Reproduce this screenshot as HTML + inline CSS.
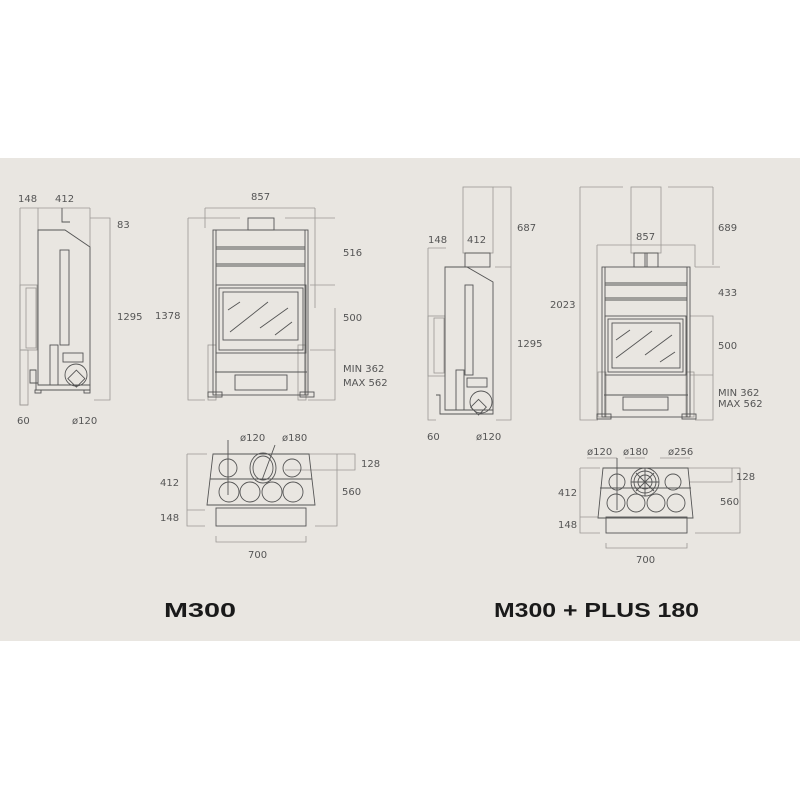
<!DOCTYPE html>
<html><head><meta charset="utf-8"><style>
html,body{margin:0;padding:0;background:#fff}
svg{display:block}
text{font-family:"DejaVu Sans","Liberation Sans",sans-serif;font-size:10px;fill:#555}
.t{font-family:"Liberation Sans",sans-serif;font-weight:bold;font-size:20px;fill:#1a1a1a}
</style></head><body>
<svg width="800" height="800" viewBox="0 0 800 800" xmlns="http://www.w3.org/2000/svg">
<rect x="0" y="0" width="800" height="800" fill="#fff"/>
<rect x="0" y="158" width="800" height="483" fill="#e9e6e1"/>
<g fill="none" stroke="#9a9894" stroke-width="0.8">
<!-- LEFT SIDE VIEW -->
<path d="M20 208H90M20 208V405H28M38 208V230M90 208V250M90 218H110V400H94"/>
<rect x="20" y="285" width="17" height="65"/>
<rect x="26" y="288" width="10" height="60"/>
<rect x="20" y="350" width="8" height="55"/>
</g>
<g fill="none" stroke="#555" stroke-width="0.9">
<path d="M38 230H65L90 247V385H38Z"/>
<rect x="60" y="250" width="9" height="95"/>
<rect x="63" y="353" width="20" height="9"/>
<rect x="50" y="345" width="8" height="40"/>
<circle cx="76" cy="375" r="11"/>
<path d="M50 385H90V390H36V370H30V383H38"/>
<rect x="64" y="370" width="12" height="12" transform="rotate(45 70 385)"/>
<path d="M62 208V222H70"/>
<rect x="35" y="390" width="6" height="3"/><rect x="84" y="390" width="6" height="3"/>
</g>
<!-- LEFT FRONT VIEW -->
<g fill="none" stroke="#9a9894" stroke-width="0.8">
<path d="M205 208H315M205 208V228M315 208V308M188 218H240M285 218H335M188 218V400H205M308 400H335V308M310 285H335M310 350H335"/>
<rect x="208" y="345" width="8" height="55"/><rect x="298" y="345" width="8" height="55"/>
</g>
<g fill="none" stroke="#555" stroke-width="0.9">
<rect x="248" y="218" width="26" height="12"/>
<rect x="213" y="230" width="95" height="165"/>
<path d="M216 230V395M305 230V395M216 247H305M216 249H305M216 264H305M216 266H305"/>
<rect x="216" y="285" width="90" height="68"/>
<rect x="219" y="288" width="84" height="62"/>
<rect x="223" y="292" width="75" height="48"/>
<path d="M228 310L240 302M230 332L268 302M260 328L288 308M275 335L292 322"/>
<path d="M215 372H307"/>
<rect x="235" y="375" width="52" height="15"/>
<rect x="208" y="392" width="14" height="5"/><rect x="300" y="392" width="14" height="5"/>
</g>
<!-- LEFT TOP VIEW -->
<g fill="none" stroke="#9a9894" stroke-width="0.8">
<path d="M187 454H207M187 454V526H205M310 454H337V526H315M280 454H355V470H285M216 536V542H306V536M187 510H205"/>
</g>
<g fill="none" stroke="#555" stroke-width="0.9">
<path d="M213 454H309L315 505H207Z"/>
<path d="M210 479H312"/>
<rect x="216" y="508" width="90" height="18"/>
<ellipse cx="228" cy="468" rx="9" ry="9"/>
<ellipse cx="263" cy="468" rx="13" ry="15"/>
<ellipse cx="263" cy="468" rx="10" ry="12"/>
<ellipse cx="292" cy="468" rx="9" ry="9"/>
<circle cx="229" cy="492" r="10"/><circle cx="250" cy="492" r="10"/>
<circle cx="272" cy="492" r="10"/><circle cx="293" cy="492" r="10"/>
<path d="M228 440V495M262 480L275 445"/>
</g>
<!-- RIGHT SIDE VIEW -->
<g fill="none" stroke="#9a9894" stroke-width="0.8">
<rect x="463" y="187" width="30" height="66"/>
<path d="M493 187H511V420H496M428 248H446M428 248V420H436M511 267H495"/>
<rect x="428" y="316" width="17" height="60"/>
<rect x="434" y="318" width="10" height="55"/>
</g>
<g fill="none" stroke="#555" stroke-width="0.9">
<path d="M445 267H467L493 282V410H445Z"/>
<rect x="465" y="285" width="8" height="90"/>
<rect x="467" y="378" width="20" height="9"/>
<rect x="456" y="370" width="8" height="40"/>
<circle cx="481" cy="402" r="11"/>
<path d="M445 410H493V414H440V395H436"/>
<rect x="470" y="400" width="11" height="11" transform="rotate(45 475 410)"/>
<rect x="465" y="253" width="25" height="14"/>
</g>
<!-- RIGHT FRONT VIEW -->
<g fill="none" stroke="#9a9894" stroke-width="0.8">
<path d="M580 187H623M668 187H713M580 187V420H598M713 187V265M597 245H695V267M597 245V420M695 267H720M690 316H713V420H695M690 375H713"/>
<rect x="631" y="187" width="30" height="66"/>
<rect x="598" y="372" width="8" height="45"/><rect x="686" y="372" width="8" height="45"/>
</g>
<g fill="none" stroke="#555" stroke-width="0.9">
<rect x="634" y="253" width="24" height="14"/>
<path d="M645 253V267M647 253V267"/>
<rect x="602" y="267" width="88" height="150"/>
<path d="M605 267V417M687 267V417M605 283H687M605 285H687M605 298H687M605 300H687"/>
<rect x="605" y="316" width="81" height="59"/>
<rect x="608" y="319" width="75" height="53"/>
<rect x="612" y="323" width="68" height="45"/>
<path d="M616 340L630 330M616 358L652 331M645 355L672 335M660 362L675 352"/>
<path d="M604 395H688"/>
<rect x="623" y="397" width="45" height="13"/>
<rect x="597" y="414" width="14" height="5"/><rect x="682" y="414" width="14" height="5"/>
</g>
<!-- RIGHT TOP VIEW -->
<g fill="none" stroke="#9a9894" stroke-width="0.8">
<path d="M580 468H600M580 468V533H600M692 468H740V533H695M680 468H732V482H690M606 543V548H687V543M580 517H598M587 458H617M625 458H645M660 458H690"/>
</g>
<g fill="none" stroke="#555" stroke-width="0.9">
<path d="M603 468H688L693 518H598Z"/>
<path d="M600 488H691"/>
<rect x="606" y="517" width="81" height="16"/>
<circle cx="617" cy="482" r="8"/><circle cx="673" cy="482" r="8"/>
<circle cx="645" cy="482" r="14"/><circle cx="645" cy="482" r="11"/><circle cx="645" cy="482" r="7"/>
<path d="M645 468V496M631 482H659M636 473L654 491M654 473L636 491"/>
<circle cx="616" cy="503" r="9"/><circle cx="636" cy="503" r="9"/>
<circle cx="656" cy="503" r="9"/><circle cx="676" cy="503" r="9"/>
<path d="M617 458V510"/>
</g>
<!-- LABELS -->
<text x="18" y="202">148</text><text x="55" y="202">412</text>
<text x="117" y="228">83</text><text x="117" y="320">1295</text>
<text x="17" y="424">60</text><text x="72" y="424">ø120</text>
<text x="251" y="200">857</text><text x="343" y="256">516</text>
<text x="155" y="319">1378</text><text x="343" y="321">500</text>
<text x="343" y="372">MIN  362</text><text x="343" y="386">MAX  562</text>
<text x="240" y="441">ø120</text><text x="282" y="441">ø180</text>
<text x="361" y="467">128</text><text x="160" y="486">412</text>
<text x="342" y="495">560</text><text x="160" y="521">148</text>
<text x="248" y="558">700</text>
<text x="517" y="231">687</text><text x="428" y="243">148</text><text x="467" y="243">412</text>
<text x="517" y="347">1295</text><text x="427" y="440">60</text><text x="476" y="440">ø120</text>
<text x="636" y="240">857</text><text x="718" y="231">689</text>
<text x="550" y="308">2023</text><text x="718" y="296">433</text>
<text x="718" y="349">500</text>
<text x="718" y="396">MIN  362</text><text x="718" y="407">MAX  562</text>
<text x="587" y="455">ø120</text><text x="623" y="455">ø180</text><text x="668" y="455">ø256</text>
<text x="736" y="480">128</text><text x="558" y="496">412</text>
<text x="720" y="505">560</text><text x="558" y="528">148</text>
<text x="636" y="563">700</text>
<text class="t" x="164" y="617" textLength="72" lengthAdjust="spacingAndGlyphs">M300</text>
<text class="t" x="494" y="617" textLength="205" lengthAdjust="spacingAndGlyphs">M300 + PLUS 180</text>
</svg>
</body></html>
